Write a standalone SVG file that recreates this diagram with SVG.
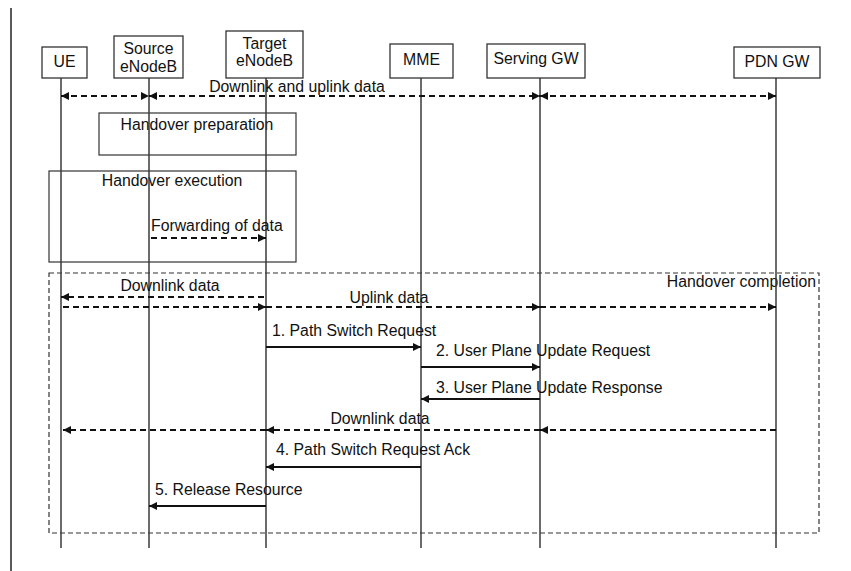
<svg xmlns="http://www.w3.org/2000/svg" width="851" height="571" viewBox="0 0 851 571">
<style>
text{font-family:"Liberation Sans",Arial,sans-serif;font-size:15.8px;fill:#111}
.box{fill:#fff;stroke:#333;stroke-width:1.3}
.life{stroke:#3a3a3a;stroke-width:1.5}
.frame{fill:none;stroke:#333;stroke-width:1.2}
.dframe{fill:none;stroke:#333;stroke-width:1.2;stroke-dasharray:5 3}
.msg{stroke:#111;stroke-width:2;fill:none;marker-end:url(#ah)}
.dmsg{stroke:#111;stroke-width:2;fill:none;stroke-dasharray:6 4;marker-end:url(#ah)}
.c{text-anchor:middle}
</style>
<defs>
<marker id="ah" viewBox="0 0 10 10" refX="10" refY="5" markerWidth="9" markerHeight="8" markerUnits="userSpaceOnUse" orient="auto">
<path d="M0,0 L10,5 L0,10 z" fill="#111" stroke="none"/>
</marker>
<marker id="ahs" viewBox="0 0 10 10" refX="0" refY="5" markerWidth="9" markerHeight="8" markerUnits="userSpaceOnUse" orient="auto">
<path d="M10,0 L0,5 L10,10 z" fill="#111" stroke="none"/>
</marker>
</defs>
<rect width="851" height="571" fill="#fff"/>
<line x1="11" y1="8" x2="11" y2="571" stroke="#222" stroke-width="1.5"/>

<g id="frames">
<rect class="frame" x="99" y="113" width="197" height="42"/>
<text class="c" x="197" y="130">Handover preparation</text>
<rect class="frame" x="49" y="171" width="247" height="91"/>
<text class="c" x="172" y="186">Handover execution</text>
<rect class="dframe" x="49" y="273" width="770" height="260"/>
<text x="816" y="287" text-anchor="end">Handover completion</text>
</g>

<g id="lifelines">
<line class="life" x1="61" y1="78" x2="61" y2="548"/>
<line class="life" x1="149" y1="78" x2="149" y2="548"/>
<line class="life" x1="266" y1="78" x2="266" y2="548"/>
<line class="life" x1="421" y1="78" x2="421" y2="548"/>
<line class="life" x1="540" y1="78" x2="540" y2="548"/>
<line class="life" x1="776" y1="78" x2="776" y2="548"/>
</g>

<g id="ue"><rect class="box" x="42" y="47" width="45" height="31"/><text class="c" x="64.5" y="67">UE</text></g>
<g id="source-enodeb"><rect class="box" x="114" y="36" width="69" height="42"/><text class="c" x="148.5" y="54">Source</text><text class="c" x="148.5" y="72">eNodeB</text></g>
<g id="target-enodeb"><rect class="box" x="226" y="31" width="77" height="47"/><text class="c" x="264.5" y="49">Target</text><text class="c" x="264.5" y="66">eNodeB</text></g>
<g id="mme"><rect class="box" x="390" y="44" width="63" height="34"/><text class="c" x="421.5" y="65">MME</text></g>
<g id="serving-gw"><rect class="box" x="487" y="44" width="98" height="34"/><text class="c" x="536" y="64">Serving GW</text></g>
<g id="pdn-gw"><rect class="box" x="734" y="47" width="86" height="31"/><text class="c" x="777" y="67">PDN GW</text></g>

<g id="connectors">
<path class="dmsg" d="M61,96 H149" style="marker-start:url(#ahs)"/>
<path class="dmsg" d="M149,96 H540" style="marker-start:url(#ahs)"/>
<path class="dmsg" d="M540,96 H776" style="marker-start:url(#ahs)"/>
<text class="c" x="297" y="92">Downlink and uplink data</text>

<path class="dmsg" d="M151,238 H266"/>
<text x="151" y="231">Forwarding of data</text>

<path class="dmsg" d="M264,297 H61"/>
<text class="c" x="170" y="291">Downlink data</text>
<path class="dmsg" d="M63,307 H266"/>
<path class="dmsg" d="M266,307 H540"/>
<path class="dmsg" d="M540,307 H776"/>
<text class="c" x="389" y="303">Uplink data</text>

<path class="msg" d="M266,347 H421"/>
<text x="272" y="336">1. Path Switch Request</text>
<path class="msg" d="M421,367 H540"/>
<text x="436" y="356">2. User Plane Update Request</text>
<path class="msg" d="M540,399 H421"/>
<text x="436" y="393">3. User Plane Update Response</text>

<path class="dmsg" d="M776,430 H540"/>
<path class="dmsg" d="M540,430 H266"/>
<path class="dmsg" d="M266,430 H63"/>
<text class="c" x="380" y="424">Downlink data</text>

<path class="msg" d="M421,467 H266"/>
<text x="276" y="455">4. Path Switch Request Ack</text>
<path class="msg" d="M266,506 H149"/>
<text x="155" y="495">5. Release Resource</text>
</g>
</svg>
